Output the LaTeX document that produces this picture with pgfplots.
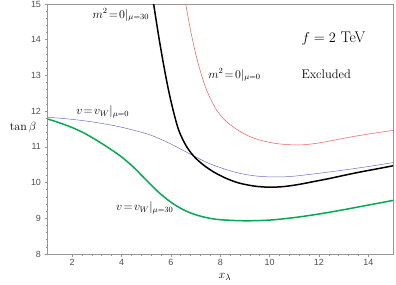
\documentclass[border=0pt]{standalone}
\usepackage{pgfplots}
\pgfplotsset{compat=1.18}
\usepackage{fontspec}
\newfontfamily\helv{Liberation Sans}
\definecolor{cred}{RGB}{240,90,90}
\definecolor{cblue}{RGB}{110,110,200}
\definecolor{cgreen}{RGB}{0,170,80}
\definecolor{axgray}{RGB}{150,150,150}
\definecolor{lblgray}{RGB}{80,80,80}
\begin{document}
\begin{tikzpicture}
\useasboundingbox (-47.5bp,-31bp) rectangle (348.5bp,254bp);
\begin{axis}[
  at={(0,0)}, anchor=south west,
  scale only axis, width=345.5bp, height=250bp,
  xmin=1, xmax=15, ymin=8, ymax=15,
  xtick={2,4,...,14}, ytick={8,9,...,15},
  minor x tick num=4, minor y tick num=4,
  xtick pos=left, ytick pos=left,
  tick align=outside,
  major tick length=3bp, minor tick length=2bp,
  tick style={axgray, line width=0.6pt},
  axis line style={axgray, line width=0.8pt},
  /pgf/number format/assume math mode=true,
  ticklabel style={font=\helv\fontsize{9}{10}\selectfont, text=lblgray},
  xticklabel style={yshift=1bp},
  clip=true,
]
\addplot[cred, line width=0.5pt, smooth] coordinates {
(6.55,15.2)(6.6,15.0)(6.8,14.25)(7.0,13.62)(7.2,13.1)(7.4,12.68)(7.6,12.35)(7.85,12.03)(8.2,11.74)(8.6,11.52)(9.1,11.32)(9.6,11.19)(10.2,11.1)(10.8,11.06)(11.4,11.06)(12.0,11.11)(12.7,11.2)(13.4,11.29)(14.2,11.38)(15.0,11.46)};
\addplot[cblue, line width=0.5pt, smooth] coordinates {
(1.0,11.83)(2.0,11.77)(3.0,11.68)(4.0,11.55)(5.0,11.37)(5.5,11.24)(6.0,11.08)(6.5,10.9)(7.0,10.72)(7.5,10.55)(8.0,10.42)(8.5,10.31)(9.0,10.23)(9.5,10.18)(10.0,10.16)(10.5,10.16)(11.0,10.18)(12.0,10.26)(13.0,10.35)(14.0,10.45)(15.0,10.56)};
\addplot[black, line width=1.5pt, smooth] coordinates {
(5.25,15.22)(5.30,15.0)(5.5,14.12)(5.7,13.32)(5.9,12.6)(6.1,12.0)(6.3,11.5)(6.5,11.18)(6.7,10.94)(6.9,10.76)(7.1,10.62)(7.4,10.45)(7.8,10.27)(8.3,10.1)(8.8,9.98)(9.4,9.9)(10.0,9.87)(10.6,9.89)(11.2,9.95)(11.8,10.03)(12.4,10.11)(13.0,10.2)(13.7,10.3)(14.4,10.39)(15,10.47)};
\addplot[cgreen, line width=1.5pt, smooth] coordinates {
(1.0,11.78)(1.5,11.67)(2.0,11.54)(2.5,11.38)(3.0,11.18)(3.5,10.96)(4.0,10.72)(4.5,10.42)(5.0,10.07)(5.5,9.73)(6.0,9.45)(6.5,9.24)(7.0,9.1)(7.5,9.01)(8.0,8.96)(9.0,8.93)(10.0,8.95)(11.0,9.02)(12.0,9.12)(13.0,9.24)(14.0,9.37)(15.0,9.50)};
\node[font=\fontsize{12}{14}\selectfont] at (axis cs:3.97,14.69) {$m^2\!=\!0|_{\mu=30}$};
\node[font=\fontsize{12}{14}\selectfont] at (axis cs:8.58,13.01) {$m^2\!=\!0|_{\mu=0}$};
\node[font=\fontsize{12}{14}\selectfont] at (axis cs:3.24,11.98) {$v\!=\!v_W|_{\mu=0}$};
\node[font=\fontsize{12}{14}\selectfont] at (axis cs:4.94,9.29) {$v\!=\!v_W|_{\mu=30}$};
\node[font=\fontsize{15.5}{17}\selectfont, anchor=west] at (axis cs:11.15,14.02) {$f = 2$ TeV};
\node[font=\fontsize{12.5}{14}\selectfont, anchor=west] at (axis cs:11.15,13.04) {Excluded};
\end{axis}
\node[font=\fontsize{12}{14}\selectfont] at (-24.5bp,126bp) {$\tan\beta$};
\node[font=\fontsize{13}{15}\selectfont] at (177.5bp,-22.5bp) {$x_\lambda$};
\end{tikzpicture}
\end{document}
